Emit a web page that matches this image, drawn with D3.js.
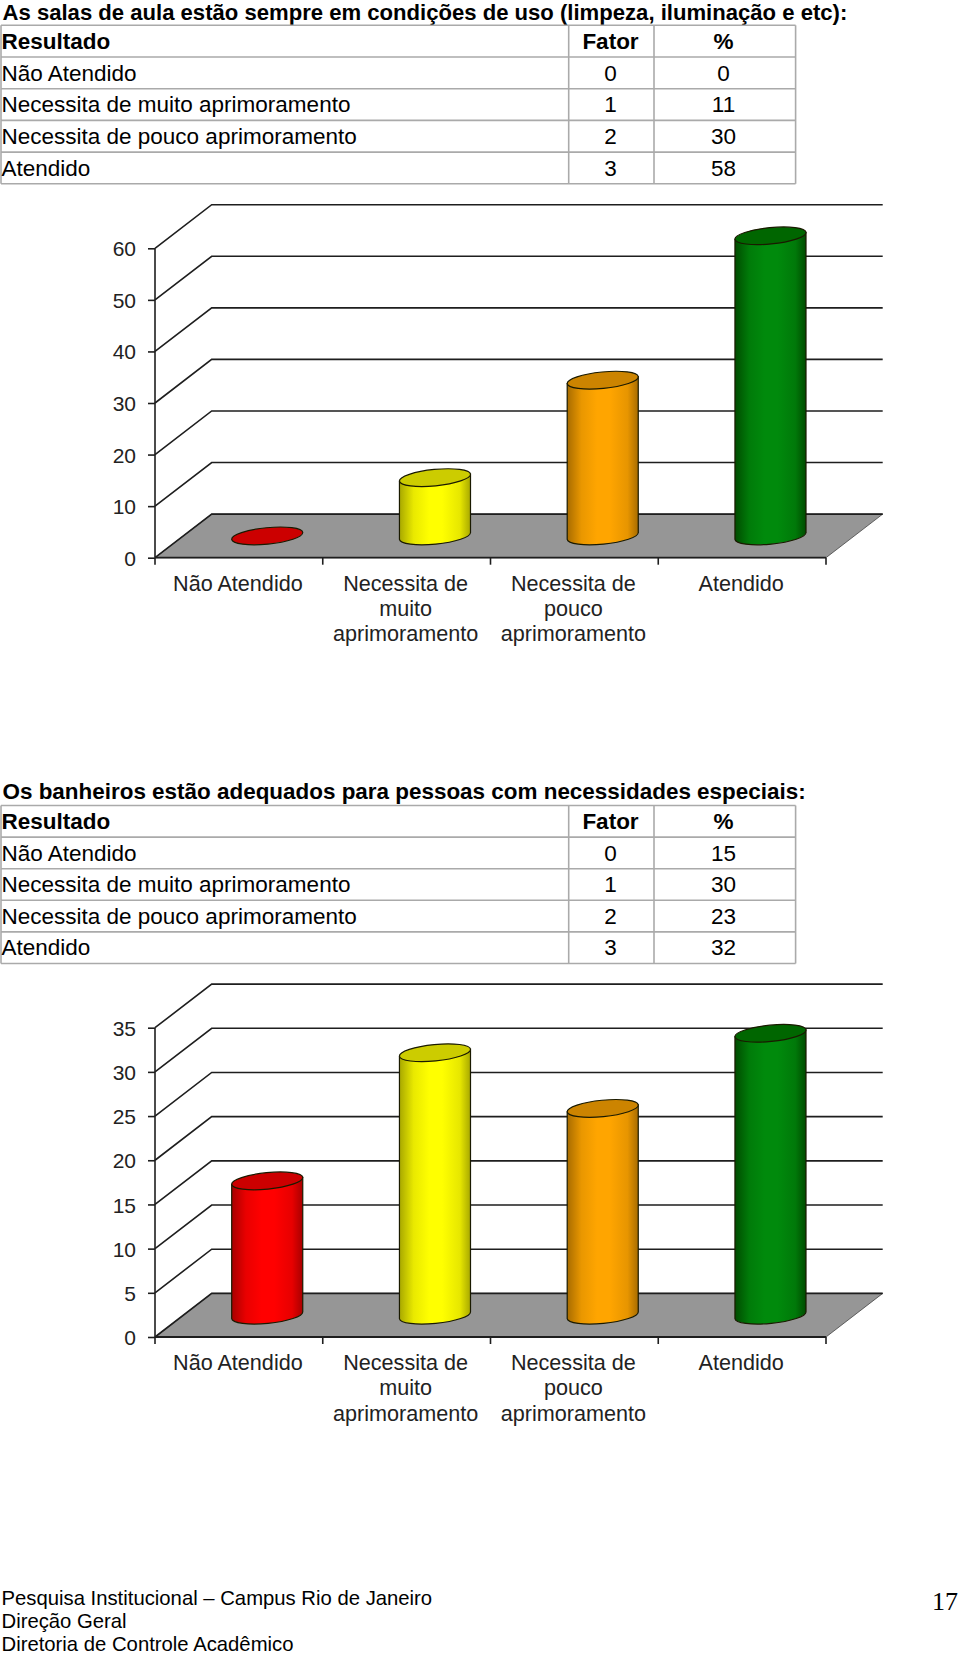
<!DOCTYPE html>
<html><head><meta charset="utf-8">
<script src="https://cdn.jsdelivr.net/npm/d3@7/dist/d3.min.js"></script>
<style>html,body{margin:0;padding:0;background:#fff}svg{display:block}</style>
</head><body><svg id="c" width="960" height="1656"></svg>
<script>
const categories = ["Não Atendido","Necessita de muito aprimoramento","Necessita de pouco aprimoramento","Atendido"];
const chartLabels = [["Não Atendido"],["Necessita de","muito","aprimoramento"],["Necessita de","pouco","aprimoramento"],["Atendido"]];
const fatores = [0,1,2,3];
const title1 = "As salas de aula estão sempre em condições de uso (limpeza, iluminação e etc):";
const table1 = [0,11,30,58];
const bars1 = [0,11.3,30.2,58.2];
const ticks1 = [0,10,20,30,40,50,60];
const title2 = "Os banheiros estão adequados para pessoas com necessidades especiais:";
const table2 = [15,30,23,32];
const bars2 = [15.2,29.7,23.4,31.9];
const ticks2 = [0,5,10,15,20,25,30,35];
const headers = ["Resultado","Fator","%"];
const footer = ["Pesquisa Institucional – Campus Rio de Janeiro","Direção Geral","Diretoria de Controle Acadêmico"];
const pageNo = "17";
const bodyColors = [["#a80000","#ff0000"],["#a8a800","#ffff00"],["#a86c00","#ffa500"],["#004c00","#008a0c"]];
const topColors = ["#cc0000","#cccc00","#cc8400","#006600"];

const svg = d3.select("#c");
const SANS = "'Liberation Sans',Arial,sans-serif";
const defs = svg.append("defs");
bodyColors.forEach((c,i)=>{
  const g = defs.append("linearGradient").attr("id","cyl"+i).attr("x1",0).attr("x2",1).attr("y1",0).attr("y2",0);
  [[0,c[0]],[.2,d3.interpolateRgb(c[0],c[1])(.75)],[.42,c[1]],[.6,c[1]],[.85,d3.interpolateRgb(c[0],c[1])(.72)],[1,c[0]]]
   .forEach(s=>g.append("stop").attr("offset",s[0]).attr("stop-color",s[1]));
});

function drawTable(titleText, titleY, titleSize, top, rowH, vals){
  svg.append("text").text(titleText).attr("x",2.5).attr("y",titleY)
    .attr("font-family",SANS).attr("font-weight","bold").attr("font-size",titleSize).attr("fill","#000");
  const xs = [1,568.7,654,795.6];
  const rowsY = d3.range(6).map(i=>top+i*rowH);
  const g = svg.append("g").attr("stroke","#aaaaaa").attr("stroke-width",1.6);
  rowsY.forEach(y=>g.append("line").attr("x1",xs[0]).attr("x2",xs[3]).attr("y1",y).attr("y2",y));
  xs.forEach(x=>g.append("line").attr("x1",x).attr("x2",x).attr("y1",top).attr("y2",top+5*rowH));
  const rows = [headers].concat(categories.map((c,i)=>[c,fatores[i],vals[i]]));
  rows.forEach((r,i)=>{
    const y = rowsY[i]+rowH-8.2;
    const bold = i===0?"bold":"normal";
    [[1.5,"start"],[610.5,"middle"],[723.5,"middle"]].forEach((p,j)=>{
      svg.append("text").text(r[j]).attr("x",p[0]).attr("y",y).attr("text-anchor",p[1])
        .attr("font-family",SANS).attr("font-weight",bold).attr("font-size",22.5).attr("fill","#000");
    });
  });
}

function drawChart(vals, ticks, yTop, yBase){
  const dx = 56.7, dy = 43.6, x0 = 155, x1 = 826;
  const y = d3.scaleLinear().domain([0,d3.max(ticks)]).range([yBase,yTop]);
  const x = d3.scaleBand().domain(categories).range([x0,x1]);
  const g = svg.append("g");
  const line = "#1e1e1e";
  g.append("path").attr("d",`M${x0},${yBase}L${x1},${yBase}L${x1+dx},${yBase-dy}L${x0+dx},${yBase-dy}Z`)
    .attr("fill","#969696").attr("stroke","#444").attr("stroke-width",.8);
  ticks.forEach(t=>{
    const yy = y(t);
    g.append("path").attr("d",`M${x0},${yy}L${x0+dx},${yy-dy}L${x1+dx},${yy-dy}`)
      .attr("fill","none").attr("stroke",line).attr("stroke-width",1.6);
  });
  const ya = d3.axisLeft(y).tickValues(ticks).tickSize(7).tickPadding(12);
  const ga = g.append("g").attr("transform",`translate(${x0},0)`).call(ya);
  ga.selectAll("line,path").attr("stroke",line).attr("stroke-width",1.6);
  ga.select(".domain").attr("d",`M0,${y(d3.max(ticks))}V${yBase}`);
  ga.selectAll("text").attr("font-family",SANS).attr("font-size",21).attr("fill","#222").attr("dy","0.36em");

  const xa = d3.axisBottom(x).tickValues([]).tickSize(0);
  const gx = g.append("g").attr("transform",`translate(0,${yBase})`).call(xa);
  gx.select(".domain").attr("d",`M${x0},0H${x1}`).attr("stroke",line).attr("stroke-width",1.8);
  const bw = x.bandwidth();
  d3.range(5).forEach(i=>gx.append("line").attr("x1",x0+i*bw).attr("x2",x0+i*bw).attr("y1",0).attr("y2",7).attr("stroke",line).attr("stroke-width",1.6));
  categories.forEach((c,i)=>{
    const t = gx.append("text").attr("text-anchor","middle").attr("font-family",SANS)
      .attr("font-size",21.6).attr("fill","#222");
    chartLabels[i].forEach((l,k)=>t.append("tspan").text(l).attr("x",x(c)+bw/2-1).attr("y",33+k*25.3));
  });

  const rx = 35.7, ry = 8.2, rot = -5.6, rad = rot*Math.PI/180;
  const ex = rx*Math.cos(rad), ey = rx*Math.sin(rad);
  const pxPerUnit = y(0)-y(1);
  vals.forEach((v,i)=>{
    const cx = x(categories[i])+bw/2+dx/2;
    const by = yBase-dy/2;
    const h = v*pxPerUnit;
    const ty = by-h;
    const cg = g.append("g").attr("stroke","#1a1a00").attr("stroke-width",1.2);
    if(v>0){
      cg.append("path")
        .attr("d",`M${cx-ex},${by-ey}A${rx},${ry},${rot},0,0,${cx+ex},${by+ey}L${cx+ex},${ty+ey}L${cx-ex},${ty-ey}Z`)
        .attr("fill",`url(#cyl${i})`);
    }
    cg.append("ellipse").attr("cx",0).attr("cy",0).attr("rx",rx).attr("ry",ry)
      .attr("transform",`translate(${cx},${ty}) rotate(${rot})`).attr("fill",topColors[i]);
  });
}

drawTable(title1,20,22.1,25.3,31.7,table1);
drawChart(bars1,ticks1,248.3,557.7);
drawTable(title2,799,22.45,805.5,31.6,table2);
drawChart(bars2,ticks2,1027.7,1337);

footer.forEach((f,i)=>svg.append("text").text(f).attr("x",1.5).attr("y",1605+i*23)
  .attr("font-family",SANS).attr("font-size",20.3).attr("fill","#000"));
svg.append("text").text(pageNo).attr("x",958).attr("y",1610).attr("text-anchor","end")
  .attr("font-family","'Liberation Serif',serif").attr("font-size",26).attr("fill","#000");
</script></body></html>
